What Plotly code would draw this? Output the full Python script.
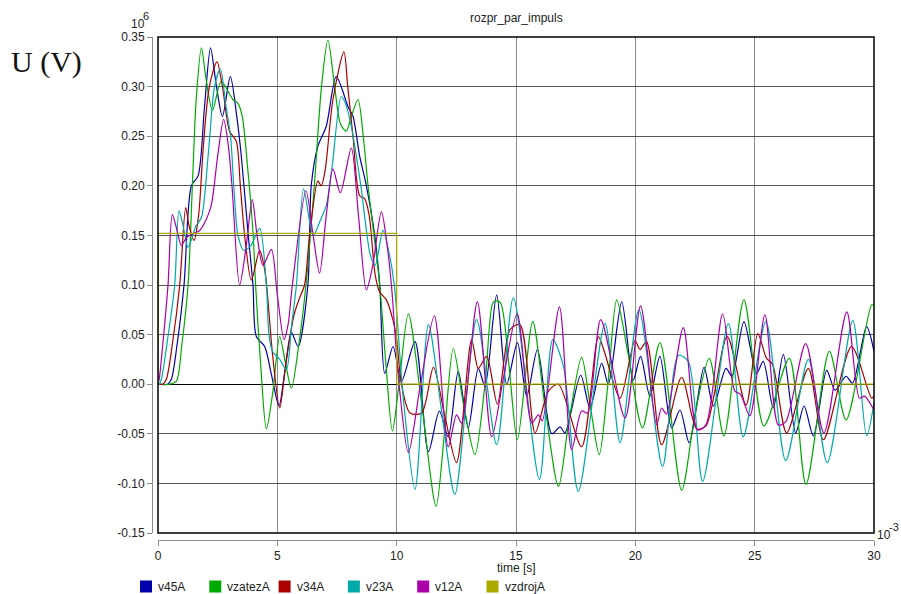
import plotly.graph_objects as go

# time in ms (axis x 10^-3 s), voltage in units of 10^6 V
t_v45A = [0, 0.4, 0.56, 0.8, 1.09, 1.4, 1.68, 1.95, 2.2, 2.45, 2.7, 3.03, 3.3, 3.49, 3.77, 3.98, 4.12, 4.47, 4.75, 5.07, 5.3, 5.59, 5.87, 6.28, 6.42, 6.7, 7.05, 7.47, 7.96, 8.17, 8.45, 8.73, 9.08, 9.29, 9.5, 9.85, 10.2, 10.77, 11.33, 11.79, 12.16, 12.58, 13.0, 13.42, 13.7, 14.19, 14.61, 15.06, 15.45, 15.9, 16.5, 16.85, 17.05, 17.71, 18.1, 18.59, 18.87, 19.43, 19.91, 20.22, 20.61, 21.03, 21.52, 21.87, 22.26, 22.88, 23.27, 23.8, 24.05, 24.55, 25.08, 25.36, 25.78, 26.2, 26.72, 27.07, 27.46, 28.02, 28.37, 28.83, 29.1, 29.69, 30]
v45A = [0, 0, 0.005, 0.04, 0.10, 0.20, 0.21, 0.28, 0.339, 0.30, 0.27, 0.31, 0.27, 0.23, 0.153, 0.10, 0.048, 0.038, 0.01, -0.022, 0.01, 0.052, 0.038, 0.10, 0.20, 0.24, 0.26, 0.31, 0.28, 0.27, 0.23, 0.20, 0.15, 0.10, 0.011, 0.038, 0.003, 0.043, -0.068, -0.027, -0.053, 0.013, -0.044, 0.016, -0.002, 0.09, 0.0, 0.042, -0.012, 0.035, -0.05, -0.043, -0.049, 0.009, -0.024, 0.021, 0.0, 0.083, 0.004, 0.028, -0.012, 0.028, -0.044, -0.026, -0.059, 0.017, -0.022, 0.016, 0.008, 0.063, 0.011, 0.023, -0.024, 0.03, -0.049, -0.022, -0.052, 0.014, -0.006, 0.008, 0.001, 0.058, 0.033]

t_vzatezA = [0, 0.5, 0.77, 1.0, 1.26, 1.44, 1.6, 1.82, 2.0, 2.28, 2.65, 3.14, 3.35, 3.53, 3.75, 3.98, 4.09, 4.3, 4.54, 4.8, 5.1, 5.35, 5.59, 5.9, 6.2, 6.55, 6.85, 7.12, 7.4, 7.65, 7.89, 8.1, 8.38, 8.6, 8.8, 9.29, 9.55, 9.82, 10.1, 10.49, 11.05, 11.65, 12.0, 12.37, 12.8, 13.28, 13.7, 14.0, 14.12, 14.35, 14.7, 15.06, 15.7, 16.2, 16.78, 17.2, 17.75, 18.1, 18.49, 18.85, 19.22, 19.7, 20.3, 21.03, 21.94, 22.5, 23.1, 23.71, 24.55, 25.39, 26.45, 27.15, 28.13, 28.83, 29.9, 30]
vzatezA = [0, 0, 0.003, 0.04, 0.10, 0.20, 0.287, 0.339, 0.31, 0.276, 0.305, 0.287, 0.283, 0.27, 0.22, 0.153, 0.10, 0.02, -0.045, -0.01, 0.048, 0.02, -0.004, 0.04, 0.10, 0.20, 0.30, 0.347, 0.30, 0.262, 0.255, 0.27, 0.287, 0.25, 0.20, 0.10, 0.02, -0.047, 0.0, 0.071, -0.02, -0.123, -0.05, 0.036, -0.02, -0.071, 0.0, 0.08, 0.084, 0.082, 0.02, -0.056, 0.063, -0.02, -0.103, -0.04, 0.027, -0.02, -0.071, 0.0, 0.085, 0.03, -0.044, 0.042, -0.107, -0.03, 0.026, -0.052, 0.085, -0.042, 0.026, -0.101, 0.033, -0.036, 0.08, 0.079]

t_v34A = [0, 0.2, 0.35, 0.6, 0.91, 1.16, 1.3, 1.51, 1.7, 1.9, 2.15, 2.47, 2.7, 3.0, 3.28, 3.45, 3.63, 3.91, 4.26, 4.45, 4.55, 4.8, 5.1, 5.35, 5.7, 5.9, 6.14, 6.35, 6.7, 6.84, 7.0, 7.33, 7.79, 7.95, 8.17, 8.45, 8.66, 8.85, 9.1, 9.29, 9.57, 9.85, 10.0, 10.2, 10.56, 11.05, 11.54, 12.0, 12.51, 13.14, 13.42, 13.77, 14.22, 14.75, 15.17, 15.8, 16.36, 16.78, 17.75, 18.45, 18.7, 19.36, 19.98, 20.2, 20.47, 21.1, 21.94, 22.57, 22.96, 23.85, 24.64, 25.13, 25.5, 25.75, 26.34, 27.25, 27.88, 29.06, 29.9, 30]
v34A = [0, 0, 0.005, 0.04, 0.10, 0.178, 0.16, 0.145, 0.17, 0.24, 0.30, 0.325, 0.30, 0.255, 0.245, 0.20, 0.15, 0.105, 0.135, 0.118, 0.10, 0.03, -0.024, 0.02, 0.07, 0.085, 0.10, 0.15, 0.205, 0.20, 0.215, 0.287, 0.335, 0.30, 0.25, 0.19, 0.187, 0.17, 0.11, 0.093, 0.085, 0.064, 0.045, 0.0, -0.029, -0.029, 0.017, -0.03, -0.079, 0.045, 0.016, 0.028, -0.02, 0.055, 0.06, -0.049, -0.007, 0.0, -0.063, 0.048, 0.033, -0.014, 0.044, 0.035, 0.043, -0.061, 0.007, -0.045, -0.042, 0.048, -0.021, 0.051, 0.026, 0.02, -0.049, 0.016, -0.056, 0.038, -0.014, -0.012]

t_v23A = [0, 0.05, 0.14, 0.4, 0.7, 0.88, 1.05, 1.26, 1.6, 1.82, 2.1, 2.37, 2.61, 2.85, 3.04, 3.2, 3.35, 3.59, 3.9, 4.26, 4.54, 4.65, 4.8, 5.1, 5.38, 5.6, 5.8, 6.1, 6.5, 6.8, 7.05, 7.3, 7.68, 7.9, 8.1, 8.5, 8.9, 9.1, 9.43, 9.7, 9.9, 10.3, 10.77, 11.33, 11.9, 12.44, 13.35, 14.19, 14.89, 15.98, 16.54, 16.99, 17.61, 18.73, 19.36, 20.15, 21.14, 21.8, 22.22, 22.82, 23.9, 24.52, 25.47, 26.3, 27.25, 28.04, 29.11, 29.69, 30]
v23A = [0, 0, 0.005, 0.045, 0.10, 0.175, 0.16, 0.138, 0.16, 0.168, 0.23, 0.30, 0.318, 0.28, 0.25, 0.19, 0.15, 0.135, 0.14, 0.157, 0.10, 0.05, 0.033, 0.025, 0.015, 0.06, 0.10, 0.197, 0.15, 0.165, 0.18, 0.22, 0.29, 0.28, 0.26, 0.20, 0.13, 0.12, 0.155, 0.13, 0.10, -0.02, -0.106, 0.06, -0.03, -0.111, 0.065, -0.061, 0.087, -0.096, 0.045, 0.018, -0.108, 0.061, -0.059, 0.075, -0.083, 0.029, 0.023, -0.098, 0.061, -0.053, 0.063, -0.077, 0.025, -0.079, 0.064, -0.052, -0.019]

t_v12A = [0, 0.05, 0.2, 0.42, 0.6, 0.8, 0.98, 1.2, 1.5, 1.75, 2.0, 2.23, 2.5, 2.75, 2.95, 3.1, 3.42, 3.7, 3.95, 4.15, 4.4, 4.75, 5.0, 5.28, 5.45, 5.63, 6.2, 6.5, 6.77, 7.05, 7.33, 7.64, 8.1, 8.4, 8.73, 9.0, 9.36, 9.6, 9.78, 10.1, 10.49, 11.0, 11.58, 12.16, 12.51, 12.72, 13.38, 13.98, 14.5, 15.05, 15.66, 15.94, 16.1, 16.82, 17.33, 17.75, 18.0, 18.55, 19.57, 20.22, 20.89, 21.1, 21.3, 22.01, 22.6, 22.96, 23.66, 24.17, 24.4, 24.8, 25.43, 25.99, 26.3, 27.14, 27.9, 28.86, 29.39, 29.6, 30]
v12A = [0, 0.005, 0.04, 0.10, 0.171, 0.155, 0.14, 0.148, 0.152, 0.155, 0.165, 0.18, 0.23, 0.267, 0.24, 0.20, 0.10, 0.14, 0.186, 0.15, 0.12, 0.136, 0.09, 0.045, 0.06, 0.10, 0.195, 0.15, 0.112, 0.17, 0.217, 0.193, 0.238, 0.17, 0.095, 0.12, 0.174, 0.14, 0.10, 0.0, -0.069, 0.0, 0.069, -0.063, -0.031, -0.039, 0.083, -0.053, 0.01, 0.071, -0.039, -0.031, -0.037, 0.078, -0.066, -0.027, -0.029, 0.065, -0.034, 0.079, -0.041, -0.024, -0.03, 0.057, -0.046, -0.041, 0.071, -0.007, -0.01, -0.032, 0.07, -0.041, -0.038, 0.041, -0.049, 0.073, -0.014, -0.012, -0.026]

t_vzdrojA = [0, 0, 10, 10, 30]
vzdrojA = [0, 0.152, 0.152, 0, 0]

names = ["v45A", "vzatezA", "v34A", "v23A", "v12A", "vzdrojA"]
colors = ["#0000AA", "#00AA00", "#AA0000", "#00AAAA", "#AA00AA", "#AAAA00"]
times = [t_v45A, t_vzatezA, t_v34A, t_v23A, t_v12A, t_vzdrojA]
values = [v45A, vzatezA, v34A, v23A, v12A, vzdrojA]
shapes_ = ["spline", "spline", "spline", "spline", "spline", "linear"]

y_ticks = [0.35, 0.30, 0.25, 0.20, 0.15, 0.10, 0.05, 0.00, -0.05, -0.10, -0.15]
y_labels = ["0.35", "0.30", "0.25", "0.20", "0.15", "0.10", "0.05", "0.00", "-0.05", "-0.10", "-0.15"]
x_ticks = [0, 5, 10, 15, 20, 25, 30]

FONT = "Liberation Sans, Arial, sans-serif"
W, H = 901, 594
# pixel layout targets
Y_AXIS_X, FRAME_L, FRAME_R = 152, 158, 874
FRAME_T, FRAME_B, X_AXIS_Y = 37, 533, 540
ML = Y_AXIS_X
MR = W - FRAME_R
MT = FRAME_T
MB = H - X_AXIS_Y
PW, PH = W - ML - MR, H - MT - MB

def px(x):
    return (x - ML) / PW

def py(y):
    return (H - MB - y) / PH

fig = go.Figure()
for name, tt, vv, col, shp in zip(names, times, values, colors, shapes_):
    fig.add_trace(go.Scatter(x=tt, y=vv, mode="lines", name=name,
                             line=dict(color=col, width=1.2, shape=shp, smoothing=0.8),
                             showlegend=False))

fig.update_layout(
    width=W, height=H,
    margin=dict(l=ML, r=MR, t=MT, b=MB, autoexpand=False),
    paper_bgcolor="white", plot_bgcolor="white",
    font=dict(family=FONT, size=12, color="#222222"),
    hovermode=False,
    xaxis=dict(domain=[(FRAME_L - Y_AXIS_X) / PW, 1], range=[0, 30], tickvals=x_ticks,
               showgrid=True, gridcolor="#8a8a8a", gridwidth=1,
               zeroline=False, showline=True, linecolor="#8a8a8a", linewidth=1,
               ticks="outside", ticklen=5, tickcolor="#8a8a8a",
               anchor="free", position=0, tickfont=dict(size=12, color="#222222")),
    yaxis=dict(domain=[(X_AXIS_Y - FRAME_B) / PH, 1], range=[-0.15, 0.35],
               tickvals=y_ticks, ticktext=y_labels,
               showgrid=True, gridcolor="#555555", gridwidth=1,
               zeroline=True, zerolinecolor="#000000", zerolinewidth=1.3,
               showline=True, linecolor="#8a8a8a", linewidth=1,
               ticks="outside", ticklen=5, tickcolor="#8a8a8a",
               anchor="free", position=0, tickfont=dict(size=12, color="#222222")),
    showlegend=False,
)

fig.add_shape(type="rect", xref="x domain", yref="y domain", x0=0, x1=1, y0=0, y1=1,
              line=dict(color="black", width=1.5), layer="above")

def add_text(text, x, y, size, xanchor="left", family=FONT, color="#222222"):
    fig.add_annotation(text=text, x=px(x), y=py(y), xref="paper", yref="paper",
                       xanchor=xanchor, yanchor="middle", showarrow=False, borderpad=0,
                       font=dict(size=size, family=family, color=color))

add_text("rozpr_par_impuls", 516, 18, 12, "center")
add_text("10", 130, 24, 12)
add_text("6", 142, 16, 11)
add_text("10", 876, 535, 12)
add_text("-3", 888, 527, 11)
add_text("time [s]", 516, 568, 12, "center")
add_text("U (V)", 10, 62, 30, "left", "Liberation Serif, Times New Roman, serif", "#111111")

# legend (drawn as squares + labels)
LEG_X0, LEG_STEP, LEG_Y = 140, 69.3, 586.5
for i, (name, col) in enumerate(zip(names, colors)):
    x0 = LEG_X0 + i * LEG_STEP
    fig.add_shape(type="rect", xref="paper", yref="paper",
                  x0=px(x0), x1=px(x0 + 12), y0=py(LEG_Y + 6), y1=py(LEG_Y - 6),
                  line=dict(width=0), fillcolor=col)
    add_text(name, x0 + 17, LEG_Y, 12)

fig.write_html("out.html", config={"displayModeBar": False, "staticPlot": True},
               post_script="document.body.style.margin='0';document.body.style.overflow='hidden';")
